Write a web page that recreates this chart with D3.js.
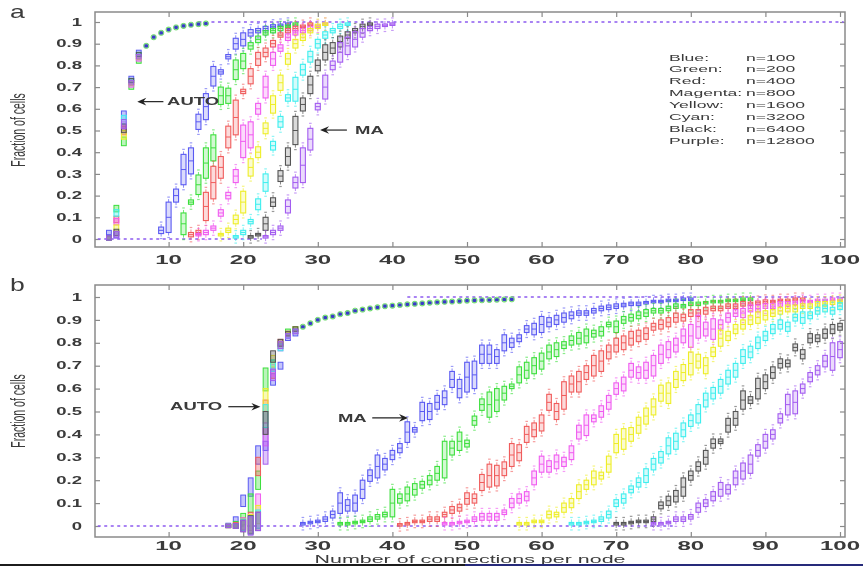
<!DOCTYPE html>
<html>
<head>
<meta charset="utf-8">
<script src="https://cdn.jsdelivr.net/npm/d3@7"></script>
<style>
  body { margin: 0; background: #fff; }
  svg { display: block; }
  text { font-family: "Liberation Sans", Arial, Helvetica, sans-serif; fill: #3a3a3a; }
</style>
</head>
<body>
<svg id="chart" width="863" height="566"></svg>
<script>
'use strict';

// ---- data ----
var seriesNames = ['Blue:', 'Green:', 'Red:', 'Magenta:', 'Yellow:', 'Cyan:', 'Black:', 'Purple:'];
var seriesN = ['n=100', 'n=200', 'n=400', 'n=800', 'n=1600', 'n=3200', 'n=6400', 'n=12800'];
var xTicks = [10, 20, 30, 40, 50, 60, 70, 80, 90, 100];
var yTicks = [0, 0.1, 0.2, 0.3, 0.4, 0.5, 0.6, 0.7, 0.8, 0.9, 1];
var yTickLabels = ['0', '0.1', '0.2', '0.3', '0.4', '0.5', '0.6', '0.7', '0.8', '0.9', '1'];

// panel a, AUTO: x, spread, blue, green, red, magenta, yellow, cyan, black, purple
var autoA = [
  [2, 0.02, 0.03, 0.005, 0.005, 0.005, 0.005, 0.005, 0.005, 0.005],
  [3, 0.03, 0.02, 0.14, 0.09, 0.08, 0.05, 0.12, 0.03, 0.02],
  [4, 0.04, 0.57, 0.45, 0.50, 0.52, 0.48, 0.55, 0.51, 0.53],
  [5, 0.02, 0.74, 0.70, 0.72, 0.71, 0.72, 0.73, 0.73, 0.72],
  [6, 0.02, 0.86, 0.82, 0.84, 0.83, 0.84, 0.85, 0.85, 0.84]
];
var autoTailA = [[7, 0.89], [8, 0.93], [9, 0.95], [10, 0.965], [11, 0.975], [12, 0.982], [13, 0.987], [14, 0.99], [15, 0.993]];

// panel a, MA: first x of each series, medians and box heights
var maStartA = [9, 12, 13, 14, 17, 19, 21, 23];
var maMedA = [
  [0.04, 0.10, 0.20, 0.32, 0.36, 0.54, 0.61, 0.75, 0.77, 0.84, 0.90, 0.92, 0.95, 0.96, 0.97, 0.98, 0.985, 0.99],
  [0.07, 0.17, 0.25, 0.35, 0.42, 0.66, 0.66, 0.78, 0.82, 0.89, 0.92, 0.95, 0.96, 0.97, 0.98, 0.99],
  [0.02, 0.03, 0.15, 0.26, 0.33, 0.47, 0.56, 0.68, 0.75, 0.83, 0.86, 0.90, 0.94, 0.96, 0.97, 0.98, 0.99],
  [0.02, 0.03, 0.05, 0.12, 0.20, 0.29, 0.45, 0.48, 0.60, 0.70, 0.83, 0.88, 0.93, 0.95, 0.96, 0.97, 0.98, 0.99],
  [0.02, 0.04, 0.09, 0.17, 0.33, 0.40, 0.51, 0.62, 0.72, 0.83, 0.90, 0.93, 0.96, 0.98, 0.99],
  [0.01, 0.03, 0.08, 0.16, 0.26, 0.43, 0.54, 0.65, 0.69, 0.78, 0.84, 0.90, 0.94, 0.96, 0.98, 0.99],
  [0.01, 0.02, 0.07, 0.17, 0.29, 0.38, 0.50, 0.62, 0.71, 0.80, 0.86, 0.88, 0.91, 0.94, 0.96, 0.98, 0.99],
  [0.01, 0.03, 0.05, 0.15, 0.26, 0.34, 0.46, 0.61, 0.70, 0.80, 0.86, 0.89, 0.92, 0.95, 0.97, 0.98, 0.985, 0.99]
];
var maIqrA = [
  [0.03, 0.14, 0.06, 0.14, 0.12, 0.07, 0.12, 0.09, 0.02, 0.02, 0.05, 0.06, 0.03, 0.02, 0.02, 0.015, 0.01, 0.01],
  [0.10, 0.02, 0.09, 0.14, 0.12, 0.08, 0.07, 0.09, 0.07, 0.03, 0.03, 0.02, 0.02, 0.02, 0.01, 0.01],
  [0.02, 0.02, 0.13, 0.15, 0.10, 0.10, 0.16, 0.02, 0.07, 0.06, 0.04, 0.03, 0.02, 0.02, 0.02, 0.01, 0.01],
  [0.01, 0.02, 0.02, 0.03, 0.03, 0.06, 0.15, 0.12, 0.05, 0.10, 0.06, 0.03, 0.03, 0.02, 0.02, 0.02, 0.01, 0.01],
  [0.01, 0.02, 0.04, 0.10, 0.08, 0.05, 0.05, 0.08, 0.07, 0.05, 0.04, 0.03, 0.02, 0.02, 0.01],
  [0.01, 0.02, 0.02, 0.05, 0.08, 0.04, 0.05, 0.03, 0.11, 0.05, 0.05, 0.04, 0.03, 0.02, 0.02, 0.01],
  [0.01, 0.01, 0.06, 0.04, 0.05, 0.08, 0.13, 0.06, 0.08, 0.05, 0.07, 0.05, 0.05, 0.03, 0.02, 0.02, 0.01],
  [0.01, 0.02, 0.02, 0.06, 0.05, 0.16, 0.10, 0.03, 0.11, 0.04, 0.09, 0.08, 0.07, 0.04, 0.02, 0.02, 0.01, 0.01]
];
var zeroRunA = [0.5, 22.5];
var oneRunA = [14, 100.5];

// panel b, AUTO: x, spread, blue, green, red, magenta, yellow, cyan, black, purple
var autoB = [
  [18, 0.01, 0.005, 0, 0, 0, 0, 0, 0, 0],
  [19, 0.02, 0.03, 0.01, 0.005, 0, 0, 0, 0, 0],
  [20, 0.05, 0.11, 0.03, 0.01, 0.01, 0.005, 0.005, 0, 0],
  [21, 0.08, 0.17, 0.10, 0.02, 0.01, 0.01, 0.005, 0.005, 0],
  [22, 0.08, 0.31, 0.20, 0.26, 0.10, 0.05, 0.03, 0.02, 0.02],
  [23, 0.10, 0.38, 0.64, 0.50, 0.40, 0.55, 0.48, 0.45, 0.32],
  [24, 0.05, 0.64, 0.70, 0.67, 0.68, 0.72, 0.70, 0.74, 0.66],
  [25, 0.03, 0.70, 0.79, 0.80, 0.78, 0.79, 0.78, 0.80, 0.79],
  [26, 0.02, 0.82, 0.85, 0.84, 0.83, 0.84, 0.83, 0.84, 0.83],
  [27, 0.02, 0.84, 0.86, 0.85, 0.85, 0.86, 0.85, 0.86, 0.85]
];
var autoTailB = [[28, 0.87], [29, 0.885], [30, 0.90], [31, 0.91], [32, 0.915], [33, 0.925], [34, 0.93], [35, 0.94],
  [36, 0.945], [37, 0.95], [38, 0.955], [39, 0.96], [40, 0.962], [41, 0.965], [42, 0.968], [43, 0.97], [44, 0.972],
  [45, 0.975], [46, 0.977], [47, 0.979], [48, 0.98], [49, 0.982], [50, 0.984], [51, 0.985], [52, 0.986], [53, 0.987],
  [54, 0.988], [55, 0.989], [56, 0.99]];

// panel b, MA
var maStartB = [28, 33, 41, 47, 57, 64, 70, 75];
var maMedB = [
  [0.01, 0.015, 0.02, 0.03, 0.05, 0.10, 0.09, 0.10, 0.16, 0.22, 0.26, 0.27, 0.31, 0.34, 0.41, 0.42, 0.50, 0.50, 0.54, 0.56,
   0.64, 0.60, 0.65, 0.66, 0.75, 0.75, 0.74, 0.80, 0.80, 0.82, 0.86, 0.86, 0.88, 0.89, 0.90, 0.91, 0.92, 0.93, 0.93, 0.94,
   0.95, 0.955, 0.96, 0.965, 0.97, 0.97, 0.975, 0.98, 0.98, 0.985, 0.985, 0.99, 0.99],
  [0.01, 0.01, 0.015, 0.02, 0.03, 0.04, 0.05, 0.10, 0.12, 0.14, 0.16, 0.18, 0.20, 0.23, 0.29, 0.34, 0.37, 0.36, 0.46, 0.53,
   0.53, 0.55, 0.58, 0.61, 0.66, 0.68, 0.70, 0.72, 0.76, 0.77, 0.79, 0.81, 0.82, 0.83, 0.84, 0.85, 0.88, 0.87, 0.90, 0.91,
   0.92, 0.93, 0.94, 0.94, 0.95, 0.96, 0.96, 0.97, 0.97, 0.975, 0.98, 0.98, 0.985, 0.985, 0.99, 0.99],
  [0.005, 0.01, 0.02, 0.02, 0.03, 0.03, 0.05, 0.07, 0.08, 0.12, 0.12, 0.19, 0.22, 0.22, 0.25, 0.31, 0.32, 0.40, 0.42, 0.45,
   0.54, 0.50, 0.57, 0.62, 0.63, 0.67, 0.70, 0.72, 0.76, 0.79, 0.80, 0.82, 0.83, 0.84, 0.87, 0.88, 0.89, 0.91, 0.91, 0.93,
   0.93, 0.94, 0.95, 0.95, 0.96, 0.96, 0.97, 0.97, 0.975, 0.98, 0.98, 0.985, 0.985, 0.99, 0.99],
  [0.01, 0.01, 0.015, 0.02, 0.03, 0.04, 0.04, 0.04, 0.06, 0.10, 0.12, 0.13, 0.21, 0.27, 0.26, 0.28, 0.28, 0.32, 0.41, 0.44,
   0.47, 0.50, 0.54, 0.60, 0.62, 0.68, 0.67, 0.68, 0.70, 0.75, 0.77, 0.79, 0.83, 0.83, 0.87, 0.86, 0.86, 0.88, 0.91, 0.93,
   0.93, 0.95, 0.95, 0.96, 0.96, 0.97, 0.97, 0.975, 0.98, 0.98, 0.985, 0.985, 0.99, 0.99],
  [0.01, 0.01, 0.02, 0.02, 0.05, 0.05, 0.08, 0.10, 0.15, 0.18, 0.21, 0.22, 0.27, 0.36, 0.38, 0.40, 0.44, 0.48, 0.52, 0.58,
   0.58, 0.64, 0.67, 0.71, 0.72, 0.70, 0.76, 0.82, 0.83, 0.86, 0.88, 0.90, 0.91, 0.92, 0.93, 0.94, 0.95, 0.95, 0.96, 0.96,
   0.97, 0.97, 0.975, 0.98],
  [0.01, 0.01, 0.015, 0.02, 0.03, 0.05, 0.10, 0.12, 0.16, 0.19, 0.22, 0.27, 0.30, 0.35, 0.37, 0.42, 0.46, 0.49, 0.55, 0.58,
   0.61, 0.65, 0.68, 0.74, 0.76, 0.80, 0.83, 0.86, 0.88, 0.87, 0.91, 0.91, 0.92, 0.94, 0.95, 0.94, 0.96],
  [0.01, 0.01, 0.015, 0.02, 0.02, 0.03, 0.09, 0.11, 0.13, 0.17, 0.22, 0.26, 0.30, 0.36, 0.37, 0.44, 0.47, 0.55, 0.55, 0.60,
   0.63, 0.67, 0.71, 0.71, 0.78, 0.75, 0.82, 0.82, 0.84, 0.86, 0.87],
  [0.01, 0.01, 0.015, 0.03, 0.03, 0.04, 0.08, 0.10, 0.13, 0.16, 0.16, 0.21, 0.24, 0.27, 0.33, 0.37, 0.40, 0.47, 0.53, 0.54,
   0.60, 0.65, 0.68, 0.72, 0.74, 0.77]
];
var maIqrB = [
  [0.01, 0.01, 0.01, 0.02, 0.03, 0.09, 0.05, 0.07, 0.08, 0.05, 0.10, 0.05, 0.04, 0.04, 0.09, 0.02, 0.08, 0.07, 0.06, 0.06,
   0.07, 0.08, 0.13, 0.12, 0.08, 0.08, 0.06, 0.07, 0.04, 0.03, 0.03, 0.05, 0.07, 0.04, 0.04, 0.04, 0.03, 0.02, 0.02, 0.02,
   0.02, 0.02, 0.02, 0.015, 0.015, 0.015, 0.01, 0.01, 0.01, 0.01, 0.01, 0.01, 0.01],
  [0.01, 0.01, 0.01, 0.01, 0.02, 0.02, 0.02, 0.12, 0.04, 0.06, 0.05, 0.03, 0.04, 0.06, 0.16, 0.06, 0.08, 0.03, 0.04, 0.05,
   0.11, 0.10, 0.06, 0.02, 0.07, 0.07, 0.07, 0.07, 0.06, 0.06, 0.03, 0.04, 0.05, 0.06, 0.03, 0.04, 0.02, 0.05, 0.03, 0.03,
   0.03, 0.03, 0.02, 0.02, 0.02, 0.02, 0.015, 0.015, 0.015, 0.01, 0.01, 0.01, 0.01, 0.01, 0.01, 0.01],
  [0.01, 0.01, 0.01, 0.01, 0.02, 0.02, 0.02, 0.03, 0.03, 0.05, 0.04, 0.07, 0.10, 0.09, 0.06, 0.10, 0.07, 0.07, 0.06, 0.07,
   0.07, 0.07, 0.12, 0.07, 0.09, 0.06, 0.09, 0.09, 0.06, 0.06, 0.06, 0.06, 0.05, 0.05, 0.03, 0.04, 0.04, 0.04, 0.03, 0.03,
   0.03, 0.03, 0.02, 0.02, 0.02, 0.02, 0.02, 0.015, 0.015, 0.015, 0.01, 0.01, 0.01, 0.01, 0.01],
  [0.01, 0.01, 0.01, 0.01, 0.02, 0.03, 0.03, 0.03, 0.02, 0.04, 0.04, 0.04, 0.06, 0.07, 0.05, 0.06, 0.04, 0.06, 0.06, 0.09,
   0.03, 0.05, 0.06, 0.05, 0.06, 0.06, 0.05, 0.07, 0.09, 0.08, 0.07, 0.06, 0.06, 0.10, 0.10, 0.06, 0.09, 0.04, 0.04, 0.03,
   0.04, 0.03, 0.03, 0.02, 0.02, 0.02, 0.02, 0.015, 0.015, 0.01, 0.01, 0.01, 0.01, 0.01],
  [0.01, 0.01, 0.01, 0.01, 0.03, 0.02, 0.04, 0.04, 0.06, 0.04, 0.06, 0.03, 0.07, 0.08, 0.09, 0.06, 0.07, 0.07, 0.07, 0.07,
   0.09, 0.07, 0.07, 0.10, 0.06, 0.07, 0.04, 0.07, 0.04, 0.04, 0.04, 0.04, 0.05, 0.04, 0.03, 0.03, 0.03, 0.03, 0.02, 0.02,
   0.02, 0.02, 0.015, 0.015],
  [0.01, 0.01, 0.01, 0.01, 0.02, 0.03, 0.03, 0.04, 0.03, 0.04, 0.06, 0.05, 0.05, 0.07, 0.07, 0.06, 0.05, 0.08, 0.06, 0.05,
   0.06, 0.06, 0.06, 0.06, 0.05, 0.05, 0.04, 0.04, 0.04, 0.04, 0.03, 0.05, 0.03, 0.03, 0.03, 0.03, 0.03],
  [0.01, 0.01, 0.01, 0.01, 0.01, 0.02, 0.03, 0.04, 0.05, 0.08, 0.04, 0.04, 0.06, 0.04, 0.02, 0.06, 0.06, 0.08, 0.03, 0.09,
   0.06, 0.05, 0.04, 0.03, 0.03, 0.04, 0.04, 0.03, 0.04, 0.04, 0.03],
  [0.01, 0.01, 0.01, 0.02, 0.02, 0.02, 0.04, 0.03, 0.04, 0.06, 0.04, 0.06, 0.07, 0.08, 0.05, 0.06, 0.04, 0.04, 0.09, 0.10,
   0.04, 0.04, 0.04, 0.05, 0.12, 0.07]
];
var zeroRunB = [0.5, 78];
var oneRunB = [42, 100.5];

// arrow notes: label, text x, tail x, head x, y
var notesA = [['AUTO', 9.8, 9.3, 5.8, 0.633], ['MA', 35.0, 33.9, 30.3, 0.502]];
var notesB = [['AUTO', 10.2, 18.0, 22.3, 0.521], ['MA', 32.7, 37.3, 42.1, 0.472]];

// ---- styles ----
var colors = ['#5a5af2', '#3cdf3c', '#f05c5c', '#f05cf0', '#eeee28', '#3eeeee', '#555555', '#a35cf0'];
var SX = 1.85;
var frameL = 95, frameR = 845;

var svg = d3.select('#chart');
svg.append('defs').append('filter').attr('id', 'soft')
  .attr('x', '-5%').attr('y', '-5%').attr('width', '110%').attr('height', '110%')
  .append('feGaussianBlur').attr('stdDeviation', 0.55);
var root = svg.append('g').attr('filter', 'url(#soft)');

var x = d3.scaleLinear().domain([0, 100]).range([94, 840]);

function stext(g, px, py, str, size, anchor, weight, sx) {
  return g.append('text')
    .attr('transform', 'translate(' + px + ',' + py + ') scale(' + (sx || SX) + ',1)')
    .attr('text-anchor', anchor || 'start')
    .style('font-size', size + 'px')
    .style('font-weight', weight || 'normal')
    .text(str);
}

function arrow(g, x1, x2, py) {
  var dir = x2 > x1 ? 1 : -1;
  g.append('line').attr('x1', x1).attr('x2', x2 - dir * 3).attr('y1', py).attr('y2', py)
    .attr('stroke', '#222').attr('stroke-width', 1.2);
  var p = d3.path();
  p.moveTo(x2, py);
  p.lineTo(x2 - dir * 9, py - 3.8);
  p.lineTo(x2 - dir * 6, py);
  p.lineTo(x2 - dir * 9, py + 3.8);
  p.closePath();
  g.append('path').attr('d', p.toString()).attr('fill', '#222');
}

function drawPanel(cfg) {
  var y = d3.scaleLinear().domain([0, 1]).range([cfg.yZero, cfg.yOne]);
  var g = root.append('g');

  // ticks on all four sides, pointing inward
  var tickStyle = function (sel) {
    sel.select('.domain').remove();
    sel.selectAll('line').attr('stroke', '#8a8a8a').attr('stroke-width', 1.2);
  };
  g.append('g').attr('transform', 'translate(' + frameL + ',0)')
    .call(d3.axisLeft(y).tickValues(yTicks).tickSize(-5).tickFormat('')).call(tickStyle);
  g.append('g').attr('transform', 'translate(' + frameR + ',0)')
    .call(d3.axisRight(y).tickValues(yTicks).tickSize(-5).tickFormat('')).call(tickStyle);
  g.append('g').attr('transform', 'translate(0,' + cfg.bottom + ')')
    .call(d3.axisBottom(x).tickValues(xTicks).tickSize(-5).tickFormat('')).call(tickStyle);
  g.append('g').attr('transform', 'translate(0,' + cfg.top + ')')
    .call(d3.axisTop(x).tickValues(xTicks).tickSize(-5).tickFormat('')).call(tickStyle);

  // tick labels
  yTicks.forEach(function (v, i) {
    stext(g, 82, y(v) + 3.6, yTickLabels[i], 10, 'end', 'bold');
  });
  xTicks.forEach(function (v) {
    stext(g, x(v), cfg.labelY, String(v), 13, 'middle', 'bold', 1.85);
  });

  // degenerate boxes sitting at 0 and 1
  [[cfg.zeroRun, 0], [cfg.oneRun, 1]].forEach(function (r) {
    g.append('line')
      .attr('x1', x(r[0][0])).attr('x2', x(r[0][1]))
      .attr('y1', y(r[1])).attr('y2', y(r[1]))
      .attr('stroke', '#8d5cf0').attr('stroke-width', 1.6)
      .attr('stroke-dasharray', '3,3.5');
  });

  // MA boxes
  var boxes = [];
  cfg.start.forEach(function (x0, s) {
    cfg.med[s].forEach(function (m, i) {
      boxes.push({ s: s, xv: x0 + i, med: m, iqr: cfg.iqr[s][i] || 0.01 });
    });
  });
  var bw = cfg.boxW;
  var bg = g.append('g').selectAll('g').data(boxes).join('g')
    .attr('stroke', function (d) { return colors[d.s]; });
  bg.each(function (d) {
    var el = d3.select(this);
    var cx = x(d.xv);
    var top = y(Math.min(1, d.med + d.iqr / 2));
    var bot = y(Math.max(0, d.med - d.iqr / 2));
    if (bot - top < 2.5) { var c = (bot + top) / 2; top = c - 1.25; bot = c + 1.25; }
    el.append('line').attr('x1', cx).attr('x2', cx).attr('y1', top - 3).attr('y2', top)
      .attr('stroke-width', 1).attr('opacity', 0.7);
    el.append('line').attr('x1', cx).attr('x2', cx).attr('y1', bot).attr('y2', bot + 3)
      .attr('stroke-width', 1).attr('opacity', 0.7);
    el.append('line').attr('x1', cx - 1.3).attr('x2', cx + 1.3).attr('y1', top - 5).attr('y2', top - 5)
      .attr('stroke-width', 1.2).attr('opacity', 0.6);
    el.append('line').attr('x1', cx - 1.3).attr('x2', cx + 1.3).attr('y1', bot + 5).attr('y2', bot + 5)
      .attr('stroke-width', 1.2).attr('opacity', 0.6);
    el.append('rect').attr('x', cx - bw / 2).attr('y', top).attr('width', bw).attr('height', bot - top)
      .attr('fill', colors[d.s]).attr('fill-opacity', 0.22).attr('stroke-width', 1.1);
    el.append('line').attr('x1', cx - bw / 2).attr('x2', cx + bw / 2)
      .attr('y1', y(d.med)).attr('y2', y(d.med)).attr('stroke-width', 1);
  });

  // AUTO: steep part per series, then the shared tail
  var autoPts = [];
  cfg.auto.forEach(function (row) {
    for (var s = 0; s < 8; s++) autoPts.push({ xv: row[0], sp: row[1], v: row[2 + s], s: s });
  });
  g.append('g').selectAll('rect').data(autoPts).join('rect')
    .attr('x', function (d) { return x(d.xv) - 2.4; })
    .attr('width', 4.8)
    .attr('y', function (d) { return Math.min(y(d.v + d.sp / 2), y(d.v) - 1.6); })
    .attr('height', function (d) { return Math.max(y(d.v - d.sp / 2) - y(d.v + d.sp / 2), 3.2); })
    .attr('fill', function (d) { return colors[d.s]; }).attr('fill-opacity', 0.35)
    .attr('stroke', function (d) { return colors[d.s]; }).attr('stroke-width', 1);
  var tail = g.append('g').selectAll('g').data(cfg.tail).join('g');
  tail.append('rect')
    .attr('x', function (d) { return x(d[0]) - 2.5; }).attr('y', function (d) { return y(d[1]) - 2.5; })
    .attr('width', 5).attr('height', 5).attr('rx', 2)
    .attr('fill', '#9be89b').attr('stroke', '#5bd35b').attr('stroke-width', 0.8);
  tail.append('rect')
    .attr('x', function (d) { return x(d[0]) - 1.8; }).attr('y', function (d) { return y(d[1]) - 1.6; })
    .attr('width', 3.6).attr('height', 3.2).attr('rx', 1.2)
    .attr('fill', '#3b3bc8');

  // frame
  g.append('rect').attr('x', frameL).attr('y', cfg.top)
    .attr('width', frameR - frameL).attr('height', cfg.bottom - cfg.top)
    .attr('fill', 'none').attr('stroke', '#8a8a8a').attr('stroke-width', 1.5);

  // arrows
  cfg.notes.forEach(function (n) {
    var py = y(n[4]);
    arrow(g, x(n[2]), x(n[3]), py);
    stext(g, x(n[1]), py + 3.8, n[0], 10, 'start', 'bold');
  });

  // panel letter and y title
  stext(g, 10, cfg.top + 6, cfg.letter, 19, 'start', 'normal', 1.4);
  g.append('text')
    .attr('transform', 'translate(25,' + cfg.titleY + ') scale(' + SX + ',1) rotate(-90)')
    .attr('text-anchor', 'middle').style('font-size', '10.5px')
    .text('Fraction of cells');
}

drawPanel({
  letter: 'a', top: 12, bottom: 247, yZero: 239, yOne: 22, labelY: 264, titleY: 130, boxW: 5,
  auto: autoA, tail: autoTailA, start: maStartA, med: maMedA, iqr: maIqrA,
  zeroRun: zeroRunA, oneRun: oneRunA, notes: notesA
});
drawPanel({
  letter: 'b', top: 285, bottom: 537, yZero: 526, yOne: 297, labelY: 550, titleY: 411, boxW: 4.6,
  auto: autoB, tail: autoTailB, start: maStartB, med: maMedB, iqr: maIqrB,
  zeroRun: zeroRunB, oneRun: oneRunB, notes: notesB
});

// legend in panel a
var lg = root.append('g');
seriesNames.forEach(function (name, i) {
  stext(lg, 669, 60.5 + i * 11.9, name, 9.5, 'start', 'normal');
  stext(lg, 746, 60.5 + i * 11.9, seriesN[i], 9.5, 'start', 'normal');
});

// shared x title
stext(root, 470, 563.3, 'Number of connections per node', 11, 'middle', 'normal', 1.95);

// dark strip along the bottom edge
svg.append('rect').attr('x', 0).attr('y', 564).attr('width', 465).attr('height', 2).attr('fill', '#1c1c1c');
svg.append('rect').attr('x', 465).attr('y', 564).attr('width', 398).attr('height', 2).attr('fill', '#262a7a');
</script>
</body>
</html>
